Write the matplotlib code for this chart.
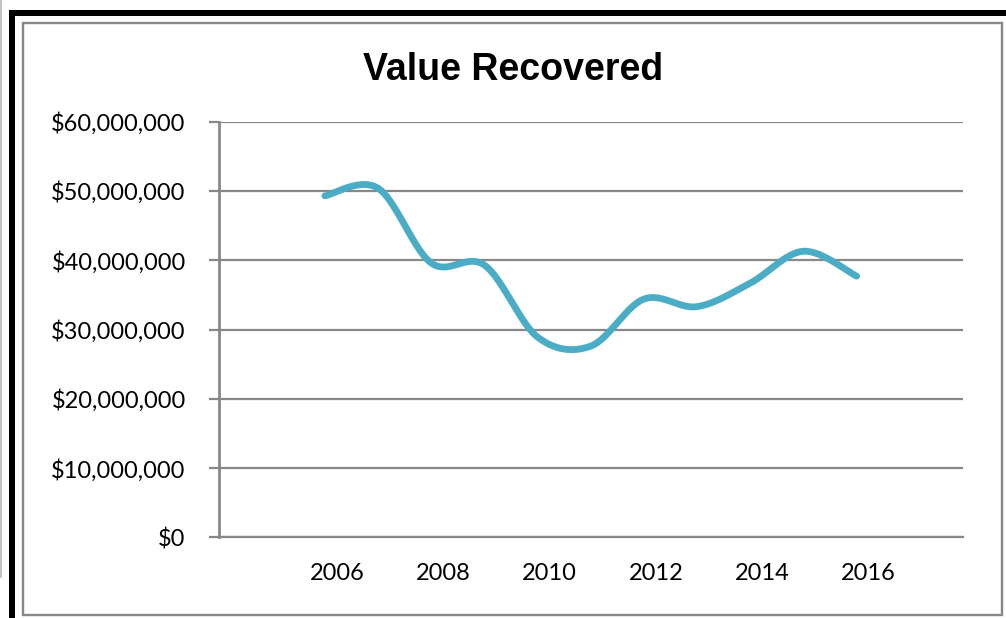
import numpy as np
import matplotlib
matplotlib.use("Agg")
import matplotlib.pyplot as plt
from matplotlib.lines import Line2D
from matplotlib.patches import Rectangle
from matplotlib.ticker import FuncFormatter
from matplotlib.transforms import ScaledTranslation

years = [2006, 2007, 2008, 2009, 2010, 2011, 2012, 2013, 2014, 2015, 2016]
value_recovered = [49.3e6, 50.4e6, 39.6e6, 39.3e6, 28.9e6, 27.6e6,
                   34.4e6, 33.3e6, 36.7e6, 41.3e6, 37.7e6]
x_ticks = [2006, 2008, 2010, 2012, 2014, 2016]
y_ticks = [0, 10e6, 20e6, 30e6, 40e6, 50e6, 60e6]

W, H = 1006, 618
GRAY = "#888888"
LINE_COLOR = "#4BACC6"


def smooth_curve(xs, ys, n=40):
  # excel-like smoothing: catmull-rom turned into cubic beziers
  xs = np.asarray(xs, float)
  ys = np.asarray(ys, float)
  px = np.concatenate([[xs[0]], xs, [xs[-1]]])
  py = np.concatenate([[ys[0]], ys, [ys[-1]]])
  t = np.linspace(0, 1, n)
  out_x, out_y = [], []
  for i in range(1, len(px) - 2):
    p0 = np.array([px[i], py[i]])
    p3 = np.array([px[i + 1], py[i + 1]])
    c1 = p0 + (np.array([px[i + 1], py[i + 1]]) - np.array([px[i - 1], py[i - 1]])) / 6
    c2 = p3 - (np.array([px[i + 2], py[i + 2]]) - np.array([px[i], py[i]])) / 6
    b = ((1 - t) ** 3)[:, None] * p0 + (3 * (1 - t) ** 2 * t)[:, None] * c1 \
        + (3 * (1 - t) * t ** 2)[:, None] * c2 + (t ** 3)[:, None] * p3
    out_x.extend(b[:, 0])
    out_y.extend(b[:, 1])
  return np.array(out_x), np.array(out_y)


fig = plt.figure(figsize=(W / 100, H / 100), dpi=100)
fig.patch.set_facecolor("white")

# outer frame pieces (pixel coords -> figure fraction)
def px_line(x0, y0, x1, y1, color, lw):
  fig.add_artist(Line2D([x0 / W, x1 / W], [1 - y0 / H, 1 - y1 / H],
                        color=color, lw=lw * 0.72, solid_capstyle="butt"))

px_line(1, 0, 1, 578, "#c4c4c4", 2)
px_line(9, 13, W, 13, "black", 6)
px_line(12, 10, 12, H, "black", 6)
fig.add_artist(Rectangle((22.5 / W, 1 - 615 / H), (1002 - 22.5) / W, (615 - 23) / H,
                         fill=False, edgecolor=GRAY, lw=2.4 * 0.72))

left, right, top, bottom = 218.5, 963, 121.7, 537.3
ax = fig.add_axes([left / W, 1 - bottom / H, (right - left) / W, (bottom - top) / H])

sx, sy = smooth_curve(years, value_recovered)
ax.plot(sx, sy, color=LINE_COLOR, lw=4.9, solid_capstyle="round", zorder=3)

ax.set_xlim(2004, 2018)
ax.set_ylim(0, 60e6)
ax.set_xticks(x_ticks)
ax.set_yticks(y_ticks)
ax.yaxis.set_major_formatter(FuncFormatter(lambda v, _: "${:,.0f}".format(v)))
ax.grid(axis="y", color=GRAY, lw=1.6, zorder=1)
ax.set_axisbelow(True)

for s in ["top", "right"]:
  ax.spines[s].set_visible(False)
ax.spines["left"].set_color(GRAY)
ax.spines["left"].set_linewidth(2.0)
ax.spines["bottom"].set_color(GRAY)
ax.spines["bottom"].set_linewidth(1.6)

ax.tick_params(axis="y", length=7.4, width=1.6, color=GRAY, pad=16.2,
               labelsize=17, labelcolor="black")
ax.tick_params(axis="x", length=0, pad=18.5, labelsize=17, labelcolor="black")
for lab in ax.get_xticklabels() + ax.get_yticklabels():
  lab.set_family(["Lato", "DejaVu Sans"])

# excel draws the year labels a bit right of the points
shift = ScaledTranslation(12.0 / 100, 0, fig.dpi_scale_trans)
for lab in ax.get_xticklabels():
  lab.set_transform(lab.get_transform() + shift)

fig.text(513.5 / W, 1 - 80 / H, "Value Recovered", ha="center", va="baseline",
         fontsize=27, fontweight="bold", family=["Liberation Sans", "DejaVu Sans"])

fig.savefig("out.png", dpi=100)
